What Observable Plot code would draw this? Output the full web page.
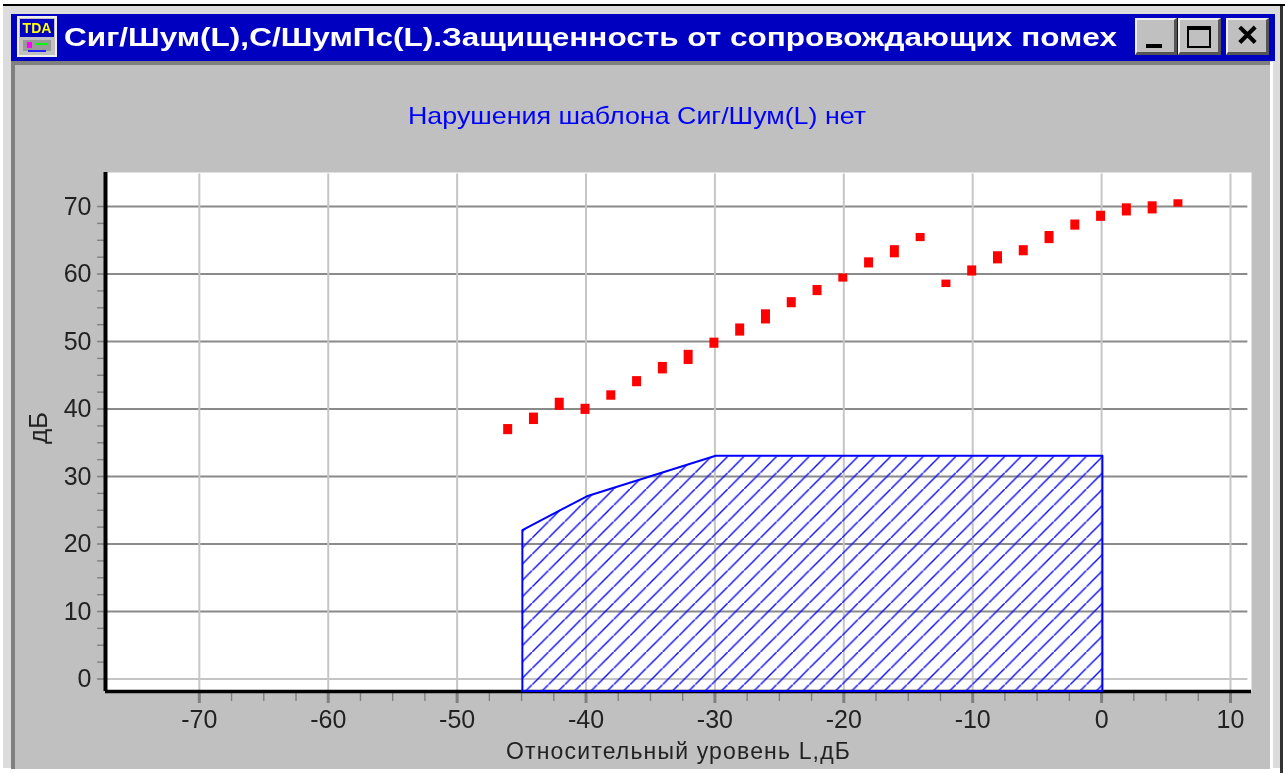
<!DOCTYPE html>
<html><head><meta charset="utf-8">
<script src="https://cdn.jsdelivr.net/npm/d3@7"></script>
<script src="https://cdn.jsdelivr.net/npm/@observablehq/plot@0.6"></script>
<style>
html,body{margin:0;padding:0;background:#fff;overflow:hidden}
#win{position:relative;width:1285px;height:773px;overflow:hidden;background:#fff;filter:blur(.45px);font-family:"Liberation Sans",Arial,sans-serif}
#win div{position:absolute;box-sizing:border-box}
#win svg{position:absolute;left:0;top:0}
.btn{background:#c0c0c0;border-top:2px solid #eee;border-left:2px solid #eee;border-right:3px solid #555;border-bottom:3px solid #555}
.g{background:#000}
</style></head><body>
<div id="win">
  <div style="left:3px;top:4px;right:0;height:2px;background:#000"></div>
  <div style="left:3px;top:6px;width:1277px;bottom:5px;background:#dcdcdc"></div>
  <div style="left:1280px;top:6px;width:3px;bottom:0;background:#333"></div>
  <div id="face" style="left:11px;top:60px;width:1259px;height:709px;background:#c0c0c0;border-left:4px solid #808080;border-top:5px solid #808080"></div>
  <div style="left:1270px;top:62px;width:3px;height:707px;background:#fff"></div>
  <div id="plotbox" style="left:0;top:0;width:1285px;height:773px"></div>
  <div style="left:11px;top:14px;width:1264px;height:47px;background:#0000c0"></div>
  <div style="left:17px;top:16px;width:40px;height:41px;background:#c0c0c0;border:2px solid #eee"></div>
  <div style="left:20px;top:19px;width:34px;height:18px;background:#0000c0;color:#ff0;font:bold 14px 'Liberation Sans';text-align:center;line-height:18px">TDA</div>
  <div style="left:23px;top:40px;width:28px;height:11px;background:#999"></div>
  <div style="left:27px;top:42px;width:5px;height:6px;background:#f0f"></div>
  <div style="left:35px;top:43px;width:12px;height:2px;background:#0f0"></div>
  <div style="left:28px;top:50px;width:18px;height:2px;background:#22f"></div>
  <div id="title" style="left:64px;top:18px;height:38px;line-height:38px;white-space:nowrap;color:#fff;font-weight:bold;font-size:26px;transform-origin:0 50%">Сиг/Шум(L),С/ШумПс(L).Защищенность от сопровождающих помех</div>
  <div class="btn" style="left:1135px;top:18px;width:42px;height:37px"></div>
  <div class="g" style="left:1146px;top:44px;width:16px;height:4px"></div>
  <div class="btn" style="left:1178px;top:18px;width:43px;height:37px"></div>
  <div style="left:1187px;top:26px;width:24px;height:22px;border:2px solid #000;border-top-width:4px"></div>
  <div class="btn" style="left:1226px;top:18px;width:43px;height:37px"></div>
  <div id="x" style="left:1226px;top:18px;width:43px;height:37px;text-align:center;font:bold 28px/36px 'DejaVu Sans';-webkit-text-stroke:1.4px #000">✕</div>
  <div id="sub" style="left:408px;top:102px;white-space:nowrap;color:#0000ff;font-size:24px;line-height:28px;transform-origin:0 50%">Нарушения шаблона Сиг/Шум(L) нет</div>
</div>
<script>
const pointX = [-46,-44,-42,-40,-38,-36,-34,-32,-30,-28,-26,-24,-22,-20,-18,-16,-14,-12,-10,-8,-6,-4,-2,0,2,4,6];
const pointLow = [36.2,37.7,39.8,39.2,41.3,43.3,45.2,46.6,49.0,50.8,52.6,55.0,56.8,58.8,60.9,62.4,64.8,58.0,59.7,61.5,62.7,64.5,66.5,67.8,68.6,68.9,69.9];
const pointHigh = [37.7,39.4,41.6,40.7,42.7,44.8,46.9,48.7,50.5,52.6,54.7,56.5,58.3,60.0,62.4,64.2,66.0,59.1,61.2,63.3,64.2,66.3,68.0,69.3,70.4,70.7,71.0];
const maskX = [-45,-40,-35,-30,0];
const maskY = [22,27,30,33,33];
const xMajor = [-70,-60,-50,-40,-30,-20,-10,0,10];
const xMinor = d3.range(-70,10,2.5).filter(v=>!xMajor.includes(v));
const yMajor = [0,10,20,30,40,50,60,70];
const yMinor = d3.range(0,70,2.5).filter(v=>!yMajor.includes(v));
const xDomain = [-77.28,11.63];
const yDomain = [-1.85,75.04];
const xLabel = "Относительный уровень L,дБ";
const yLabel = "дБ";
const tickColor = "#808080", fs = 25;
const fmt = d => String(d);

const points = pointX.map((x,i)=>({x,low:pointLow[i],high:pointHigh[i]}));
const mask = maskX.map((x,i)=>({x,y:maskY[i]}));

const plot = Plot.plot({
  width:1285, height:773,
  marginLeft:105, marginRight:34, marginTop:172, marginBottom:82,
  style:{background:"transparent", fontFamily:"'Liberation Sans',Arial,sans-serif", color:"#222", overflow:"visible"},
  x:{domain:xDomain}, y:{domain:yDomain},
  marks:[
    Plot.frame({fill:"white", stroke:"none"}),
    Plot.ruleY(yMajor,{x1:xDomain[0],x2:11.35,stroke:"#8a8a8a",strokeWidth:d=>d===0?1.2:2}),
    Plot.ruleX(xMajor,{y1:yDomain[0],y2:74.8,stroke:"#c6c6c6",strokeWidth:2}),
    Plot.axisX({ticks:xMinor,tickFormat:()=>"",label:null,tickSize:10,stroke:tickColor,strokeWidth:1.4}),
    Plot.axisY({ticks:yMinor,tickFormat:()=>"",label:null,tickSize:8,stroke:tickColor,strokeWidth:1.4}),
    Plot.axisX({ticks:xMajor,tickFormat:fmt,tickSize:12,tickPadding:7,stroke:tickColor,strokeWidth:3,fontSize:fs,
      label:xLabel,labelAnchor:"center",labelArrow:"none",labelOffset:67}),
    Plot.axisY({ticks:yMajor,tickFormat:fmt,tickSize:8,tickPadding:6,stroke:tickColor,strokeWidth:1.6,fontSize:fs,
      label:yLabel,labelAnchor:"center",labelArrow:"none",labelOffset:77}),
    Plot.ruleX([xDomain[0]],{y1:yDomain[0],y2:yDomain[1],stroke:"#000",strokeWidth:4}),
    Plot.ruleY([yDomain[0]],{x1:xDomain[0],x2:xDomain[1],stroke:"#000",strokeWidth:3.5}),
    Plot.areaY(mask,{x:"x",y1:yDomain[0],y2:"y",dx:1.3,fill:"url(#hatch)",stroke:"#0000ff",strokeWidth:2}),
    Plot.ruleX(points,{x:"x",y1:"low",y2:"high",dx:-1,stroke:"#ff0000",strokeWidth:9})
  ]
});
const NS="http://www.w3.org/2000/svg";
const defs=document.createElementNS(NS,"defs");
const pat=document.createElementNS(NS,"pattern");
pat.setAttribute("id","hatch");pat.setAttribute("patternUnits","userSpaceOnUse");
pat.setAttribute("width","16.3");pat.setAttribute("height","16.3");
pat.setAttribute("patternTransform","translate(9.3 0)");
const ln=document.createElementNS(NS,"path");
ln.setAttribute("d","M-2,18.3L18.3,-2");ln.setAttribute("stroke","#1010f0");ln.setAttribute("stroke-width","1.5");ln.setAttribute("fill","none");
pat.appendChild(ln);defs.appendChild(pat);plot.insertBefore(defs,plot.firstChild);
function fitSvg(t,size,w){t.setAttribute("font-size",size);t.style.letterSpacing="0px";const n=t.textContent.length;const c=t.getComputedTextLength();t.style.letterSpacing=((w-c)/n)+"px";}
document.getElementById("plotbox").appendChild(plot);
const xt=[...plot.querySelectorAll("text")].find(t=>t.textContent===xLabel);
const yt=[...plot.querySelectorAll("text")].find(t=>t.textContent===yLabel);
fitSvg(xt,23,345);
yt.setAttribute("font-size",26);yt.setAttribute("dx",4);
function fitHtml(id,w){const e=document.getElementById(id);const c=e.getBoundingClientRect().width;e.style.transform="scaleX("+(w/c)+")";}
fitHtml("title",1053);fitHtml("sub",458);
</script>
</body></html>
